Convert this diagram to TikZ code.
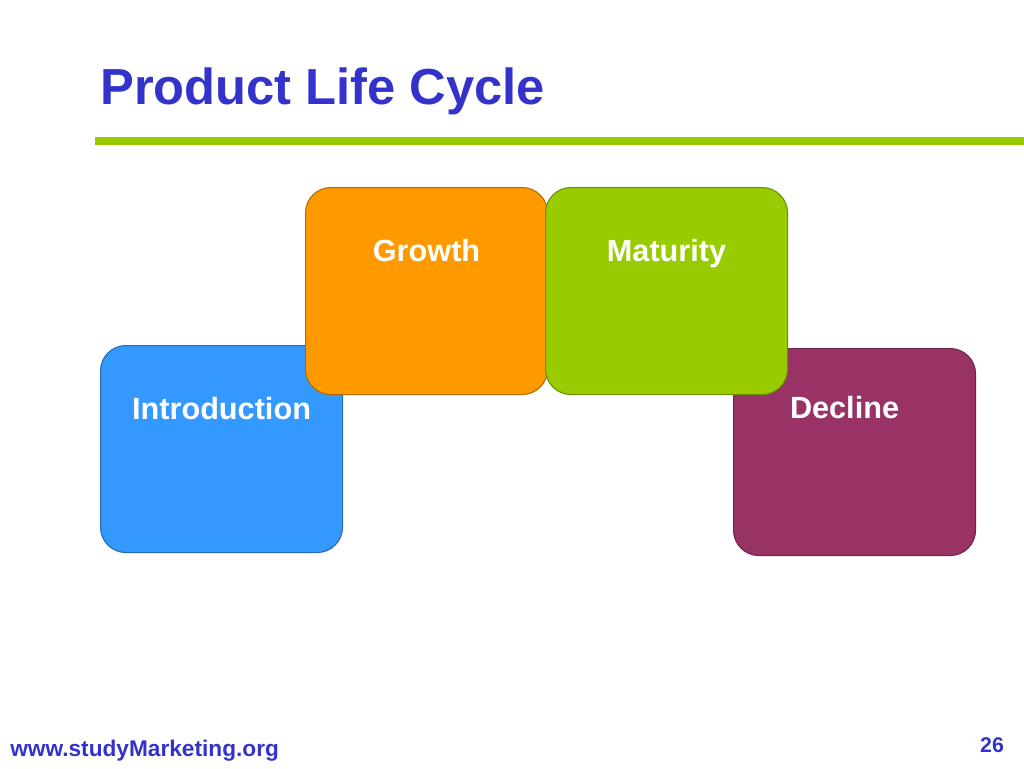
\documentclass[tikz,border=0pt]{standalone}
\usepackage{fontspec}
\setmainfont{Liberation Sans}
\usepackage{xcolor}
\usepackage{tikz}
\usetikzlibrary{positioning}

\definecolor{titleblue}{HTML}{3333CC}
\definecolor{introblue}{HTML}{3399FF}
\definecolor{growthorange}{HTML}{FF9900}
\definecolor{maturitygreen}{HTML}{99CC00}
\definecolor{declinepurple}{HTML}{993366}

\begin{document}
\begin{tikzpicture}[
    x=0.75pt, y=-0.75pt,
    phase/.style={rectangle, rounded corners=19pt, anchor=north west, minimum width=181.5pt,
        inner xsep=0pt, inner ysep=0pt, text height=55.5pt, text depth=99.75pt,
        font=\fontsize{23}{27}\selectfont\bfseries, text=white, line width=0.8pt},
    heading/.style={anchor=base west, inner sep=0pt, text=titleblue,
        font=\fontsize{38}{44}\selectfont\bfseries},
    footer/.style={inner sep=0pt, text=titleblue, font=\fontsize{17}{20}\selectfont\bfseries}
]
    \useasboundingbox (0,0) rectangle (1024,768);

    % Title and rule
    \node[heading] (title) at (100,104) {Product Life Cycle};
    \coordinate (rulestart) at (95,140.5);
    \coordinate (ruleend) at (1024,140.5);
    \draw[maturitygreen, line width=6pt] (rulestart) -- (ruleend);

    % Lower phases
    \node[phase, fill=introblue, draw=introblue!70!black] (intro) at (100,345) {Introduction};
    \node[phase, fill=declinepurple, draw=declinepurple!70!black, text height=52.5pt, text depth=102.75pt]
        (decline) at (733,348) {Decline\hspace*{15pt}};

    % Upper phases
    \node[phase, fill=growthorange, draw=growthorange!70!black] (growth) at (305,187) {Growth};
    \node[phase, fill=maturitygreen, draw=maturitygreen!70!black] (maturity) at (545,187) {Maturity};

    % Footer
    \node[footer, anchor=base west] (site) at (10,756) {www.studyMarketing.org};
    \node[footer, font=\fontsize{16}{19}\selectfont\bfseries] (pagenum) at (992,745) {26};
\end{tikzpicture}
\end{document}
